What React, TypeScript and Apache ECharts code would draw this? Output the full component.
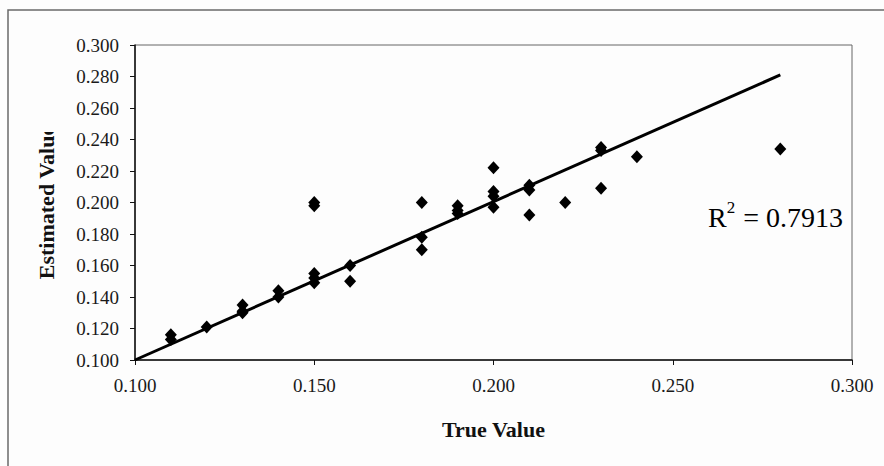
import React, { useEffect, useRef } from "react";
import * as echarts from "echarts";

const trueValues = [
  0.11, 0.11, 0.12, 0.13, 0.13, 0.13, 0.14, 0.14, 0.15, 0.15, 0.15, 0.15, 0.15,
  0.16, 0.16, 0.18, 0.18, 0.18, 0.19, 0.19, 0.19, 0.2, 0.2, 0.2, 0.2, 0.21, 0.21,
  0.21, 0.22, 0.23, 0.23, 0.23, 0.24, 0.28,
];
const estimatedValues = [
  0.116, 0.113, 0.121, 0.135, 0.131, 0.13, 0.144, 0.14, 0.2, 0.198, 0.155, 0.152,
  0.149, 0.16, 0.15, 0.2, 0.178, 0.17, 0.198, 0.195, 0.193, 0.222, 0.207, 0.204,
  0.197, 0.211, 0.208, 0.192, 0.2, 0.235, 0.233, 0.209, 0.229, 0.234,
];
const trendX = [0.1, 0.28];
const trendY = [0.1, 0.281];
const rSquared = "0.7913";
const xTitle = "True Value";
const yTitle = "Estimated Value";

const SERIF = '"Liberation Serif", "Times New Roman", serif';
const BG = "#fdfdfd";

export default function App() {
  const ref = useRef<HTMLDivElement>(null);
  useEffect(() => {
    if (!ref.current) return;
    const chart = echarts.init(ref.current, null, { renderer: "svg" });
    chart.setOption({
      animation: false,
      backgroundColor: BG,
      grid: {
        left: 135,
        top: 45,
        right: 32,
        bottom: 106,
        show: true,
        borderColor: "#666",
        borderWidth: 1,
        backgroundColor: "transparent",
      },
      xAxis: {
        type: "value",
        min: 0.1,
        max: 0.3,
        interval: 0.05,
        name: xTitle,
        nameLocation: "middle",
        nameGap: 58,
        nameTextStyle: { fontFamily: SERIF, fontWeight: "bold", fontSize: 22, color: "#111" },
        axisLine: { show: true, onZero: false, lineStyle: { color: "#111", width: 1.5 } },
        axisTick: { show: true, inside: false, length: 5, lineStyle: { color: "#111" } },
        axisLabel: {
          margin: 16,
          fontFamily: SERIF,
          fontSize: 19,
          color: "#1a1a1a",
          formatter: (v: number) => v.toFixed(3),
        },
        splitLine: { show: false },
      },
      yAxis: {
        type: "value",
        min: 0.1,
        max: 0.3,
        interval: 0.02,
        name: yTitle,
        nameLocation: "middle",
        nameGap: 78,
        nameTextStyle: { fontFamily: SERIF, fontWeight: "bold", fontSize: 22, color: "#111" },
        axisLine: { show: true, onZero: false, lineStyle: { color: "#111", width: 1.5 } },
        axisTick: { show: true, inside: false, length: 5, lineStyle: { color: "#111" } },
        axisLabel: {
          margin: 16,
          fontFamily: SERIF,
          fontSize: 19,
          color: "#1a1a1a",
          formatter: (v: number) => v.toFixed(3),
        },
        splitLine: { show: false },
      },
      series: [
        {
          type: "line",
          data: trendX.map((x, i) => [x, trendY[i]]),
          showSymbol: false,
          symbol: "none",
          lineStyle: { color: "#000", width: 3 },
          z: 2,
        },
        {
          type: "scatter",
          data: trueValues.map((x, i) => [x, estimatedValues[i]]),
          symbol: "diamond",
          symbolSize: [12, 13],
          itemStyle: { color: "#000", opacity: 1 },
          z: 3,
        },
      ],
      graphic: [
        {
          type: "rect",
          shape: { x: 8, y: 10, width: 1000, height: 600 },
          style: { fill: "none", stroke: "#6a6a6a", lineWidth: 1.5 },
          silent: true,
          z: 0,
        },
        {
          type: "rect",
          shape: { x: 28, y: 60, width: 36, height: 72 },
          style: { fill: BG },
          silent: true,
          z: 100,
        },
        {
          type: "text",
          left: 708,
          top: 199,
          z: 50,
          style: {
            text: "{r|R}{s|2}{r| = " + rSquared + "}",
            rich: {
              r: { fontFamily: SERIF, fontSize: 28, color: "#111", lineHeight: 32, verticalAlign: "bottom" },
              s: { fontFamily: SERIF, fontSize: 17, color: "#111", lineHeight: 32, verticalAlign: "top", padding: [0, 1, 0, 0] },
            },
          },
        },
      ],
    });
    return () => chart.dispose();
  }, []);
  return (
    <div
      ref={ref}
      style={{ position: "fixed", left: 0, top: 0, width: 884, height: 466 }}
    />
  );
}
